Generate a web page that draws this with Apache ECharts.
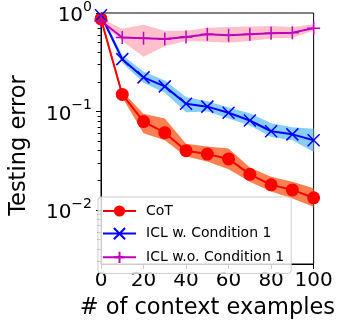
<!DOCTYPE html>
<html><head><meta charset="utf-8">
<script src="https://cdn.jsdelivr.net/npm/echarts@6/dist/echarts.min.js"></script>
<style>html,body{margin:0;padding:0;background:#fff}#c{width:338px;height:330px}</style>
</head><body><div id="c"></div>
<script>
const xValues = [0, 10, 20, 30, 40, 50, 60, 70, 80, 90, 100];
const cotMean = [0.87, 0.149, 0.079, 0.061, 0.040, 0.037, 0.033, 0.023, 0.018, 0.016, 0.0133];
const cotLow  = [0.82, 0.139, 0.060, 0.051, 0.035, 0.031, 0.026, 0.0194, 0.0154, 0.0131, 0.0108];
const cotHigh = [0.92, 0.160, 0.095, 0.085, 0.047, 0.044, 0.042, 0.027, 0.0217, 0.0194, 0.0166];
const icwMean = [0.95, 0.34, 0.222, 0.18, 0.12, 0.112, 0.097, 0.081, 0.063, 0.0586, 0.051];
const icwLow  = [0.90, 0.31, 0.196, 0.155, 0.098, 0.100, 0.085, 0.072, 0.055, 0.051, 0.039];
const icwHigh = [1.00, 0.373, 0.254, 0.206, 0.14, 0.127, 0.110, 0.096, 0.076, 0.069, 0.067];
const icwoMean = [0.83, 0.563, 0.555, 0.546, 0.572, 0.609, 0.595, 0.609, 0.623, 0.632, 0.70];
const icwoLow  = [0.78, 0.52, 0.36, 0.46, 0.52, 0.51, 0.50, 0.52, 0.55, 0.56, 0.66];
const icwoHigh = [0.88, 0.69, 0.76, 0.66, 0.66, 0.71, 0.72, 0.73, 0.74, 0.72, 0.77];
const seriesNames = ['CoT', 'ICL w. Condition 1', 'ICL w.o. Condition 1'];
const xTicks = [0, 20, 40, 60, 80, 100];
const yMajorTicks = [0.01, 0.1, 1];
const yMinorTicks = [0.003,0.004,0.005,0.006,0.007,0.008,0.009,0.02,0.03,0.04,0.05,0.06,0.07,0.08,0.09,0.2,0.3,0.4,0.5,0.6,0.7,0.8,0.9];
const yMin = 0.00283, yMax = 1;

const FONT = 'DejaVu Sans';
const pair = (m) => xValues.map((x, i) => [x, m[i]]);

function band(name, low, high, color) {
  return {
    name: name, type: 'custom', silent: true, z: 1, clip: true,
    data: xValues.map((x, i) => [x, low[i], high[i]]),
    renderItem: function (params, api) {
      if (params.dataIndex !== 0) return null;
      const top = xValues.map((x, i) => api.coord([x, high[i]]));
      const bot = xValues.map((x, i) => api.coord([x, low[i]])).reverse();
      const cs = params.coordSys;
      return {
        type: 'polygon', shape: { points: top.concat(bot) }, style: { fill: color },
        clipPath: { type: 'rect', shape: { x: cs.x, y: cs.y, width: cs.width, height: cs.height } }
      };
    }
  };
}

const chart = echarts.init(document.getElementById('c'), null, { renderer: 'canvas' });
chart.setOption({
  animation: false,
  textStyle: { fontFamily: FONT },
  grid: { left: 101, right: 24, top: 12, bottom: 66, show: true, borderColor: '#000', borderWidth: 1, backgroundColor: 'transparent' },
  legend: {
    data: seriesNames,
    orient: 'vertical', left: 98, top: 197,
    itemWidth: 33, itemHeight: 14, itemGap: 7.5,
    padding: [7, 7, 8, 4],
    backgroundColor: 'rgba(255,255,255,0.8)', borderColor: '#cccccc', borderWidth: 1, borderRadius: 3,
    textStyle: { fontFamily: FONT, fontSize: 14, color: '#000', padding: [0, 0, 0, 5] }
  },
  xAxis: {
    type: 'value', min: 0, max: 100, interval: 20,
    name: '# of context examples', nameLocation: 'middle', nameGap: 33,
    nameTextStyle: { fontFamily: FONT, fontSize: 22.5, color: '#000' },
    axisLine: { lineStyle: { color: '#000', width: 1 } },
    axisTick: { show: true, length: 5, inside: false, lineStyle: { color: '#000' }, customValues: xTicks },
    axisLabel: { fontFamily: FONT, fontSize: 20, color: '#000', margin: 7, customValues: xTicks },
    splitLine: { show: false }
  },
  yAxis: [{
    type: 'log', min: yMin, max: yMax, logBase: 10, position: 'left',
    name: 'Testing error', nameLocation: 'middle', nameGap: 70,
    nameTextStyle: { fontFamily: FONT, fontSize: 22.5, color: '#000', padding: [0, 14, 0, 0] },
    axisLine: { show: true, lineStyle: { color: '#000', width: 1 } },
    axisTick: { show: true, length: 5, lineStyle: { color: '#000' }, customValues: yMajorTicks },
    axisLabel: {
      customValues: yMajorTicks, margin: 9, color: '#000',
      formatter: function (v) {
        const e = Math.round(Math.log10(v));
        return '{b|10}{s|' + (e < 0 ? '\u2212' + (-e) : e) + '}';
      },
      rich: {
        b: { fontFamily: FONT, fontSize: 20, color: '#000', padding: [6, 0, 0, 0], verticalAlign: 'bottom' },
        s: { fontFamily: FONT, fontSize: 14, color: '#000', verticalAlign: 'top' }
      }
    },
    splitLine: { show: false }
  }, {
    type: 'log', min: yMin, max: yMax, logBase: 10, position: 'right', offset: -213,
    axisLine: { show: false },
    axisTick: { show: true, inside: true, length: 3, lineStyle: { color: '#000' }, customValues: yMinorTicks },
    axisLabel: { show: false },
    splitLine: { show: false }
  }],
  series: [
    band('cotBand', cotLow, cotHigh, '#FF7F50'),
    band('icwBand', icwLow, icwHigh, '#87CEFA'),
    band('icwoBand', icwoLow, icwoHigh, '#FFC0CB'),
    {
      name: seriesNames[0], type: 'line', data: pair(cotMean), z: 3,
      lineStyle: { color: '#FF0000', width: 2 },
      symbol: 'circle', symbolSize: 13, showSymbol: true,
      itemStyle: { color: '#FF0000', borderWidth: 0 }
    },
    {
      name: seriesNames[1], type: 'line', data: pair(icwMean), z: 3,
      lineStyle: { color: '#0000FF', width: 2 },
      symbol: 'path://M0,0L10,10M10,0L0,10', symbolSize: 12, showSymbol: true,
      itemStyle: { color: 'none', borderColor: '#0000FF', borderWidth: 1.5 }
    },
    {
      name: seriesNames[2], type: 'line', data: pair(icwoMean), z: 3,
      lineStyle: { color: '#BF00BF', width: 2 },
      symbol: 'path://M5,0L5,10M0,5L10,5', symbolSize: 13, showSymbol: true,
      itemStyle: { color: 'none', borderColor: '#BF00BF', borderWidth: 1.5 }
    }
  ]
});
</script></body></html>
